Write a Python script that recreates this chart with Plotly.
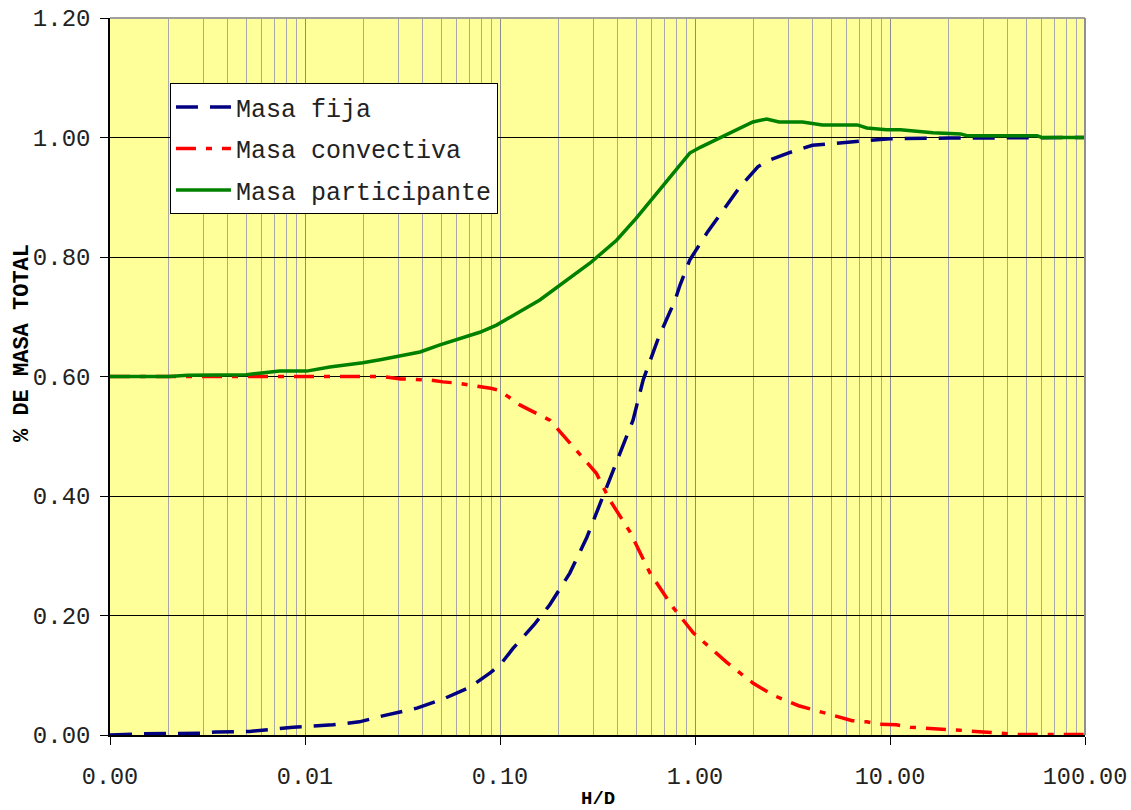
import plotly.graph_objects as go

# ---- data ----
x_fija = [0.001, 0.0015, 0.0029, 0.0035, 0.0052, 0.0066, 0.0087, 0.0139, 0.019, 0.025, 0.0375,
          0.051, 0.07, 0.089, 0.1, 0.1166, 0.15, 0.18, 0.228, 0.279, 0.336, 0.396, 0.481, 0.542,
          0.65, 0.791, 0.838, 0.94, 1.16, 1.68, 2.1, 2.4, 3.0, 4.0, 6.0, 8.7, 10, 20, 50, 100]
y_fija = [0.0, 0.002, 0.003, 0.005, 0.006, 0.009, 0.013, 0.017, 0.022, 0.032, 0.045,
          0.06, 0.08, 0.104, 0.117, 0.145, 0.185, 0.218, 0.271, 0.331, 0.398, 0.455, 0.527, 0.594,
          0.665, 0.728, 0.753, 0.795, 0.842, 0.915, 0.951, 0.962, 0.974, 0.987, 0.992, 0.997, 0.998, 0.999, 1.0, 1.0]

x_conv = [0.001, 0.025, 0.031, 0.044, 0.051, 0.06, 0.091, 0.1, 0.127, 0.18, 0.228, 0.265, 0.312,
          0.366, 0.464, 0.588, 0.77, 0.98, 1.45, 1.98, 2.5, 3.4, 4.0, 5.1, 6.4, 7.6, 8.9, 10.8,
          12.7, 20.2, 22.8, 30, 36.6, 45, 100]
y_conv = [0.600, 0.600, 0.596, 0.594, 0.591, 0.589, 0.580, 0.576, 0.552, 0.527, 0.489, 0.464, 0.438,
          0.393, 0.340, 0.271, 0.214, 0.171, 0.122, 0.087, 0.067, 0.049, 0.042, 0.033, 0.024, 0.022, 0.018, 0.017,
          0.013, 0.010, 0.008, 0.005, 0.003, 0.001, 0.001]

x_part = [0.001, 0.002, 0.0025, 0.005, 0.006, 0.0074, 0.0102, 0.0134, 0.0198, 0.0243, 0.0389, 0.0492,
          0.0788, 0.096, 0.16, 0.29, 0.396, 0.50, 0.676, 0.94, 1.07, 1.34, 1.56, 1.98, 2.33, 2.7, 3.56,
          4.5, 6.8, 7.6, 9.6, 11.3, 16.6, 23, 24.8, 56.7, 60, 100]
y_part = [0.600, 0.600, 0.602, 0.603, 0.606, 0.609, 0.609, 0.616, 0.623, 0.628, 0.641, 0.653,
          0.674, 0.686, 0.728, 0.790, 0.828, 0.865, 0.917, 0.974, 0.984, 0.999, 1.009, 1.026, 1.031, 1.026, 1.026,
          1.021, 1.021, 1.016, 1.013, 1.013, 1.008, 1.006, 1.003, 1.003, 1.0, 1.0]

x_tickvals = [0.001, 0.01, 0.1, 1, 10, 100]
x_ticktext = ["0.00", "0.01", "0.10", "1.00", "10.00", "100.00"]

series_names = ["Masa fija", "Masa convectiva", "Masa participante"]
x_title = "H/D"
y_title = "% DE MASA TOTAL"

MONO = "Courier New, Liberation Mono, monospace"

fig = go.Figure()
fig.add_trace(go.Scatter(x=x_fija, y=y_fija, mode="lines", name=series_names[0], legendgroup="a",
                         line=dict(color="#000080", width=3.5, dash="22px,12px")))
fig.add_trace(go.Scatter(x=x_conv, y=y_conv, mode="lines", name=series_names[1], legendgroup="b",
                         line=dict(color="#FF0000", width=3.5, dash="20px,10px,6px,10px")))
fig.add_trace(go.Scatter(x=x_part, y=y_part, mode="lines", name=series_names[2], legendgroup="c",
                         line=dict(color="#008000", width=3.5)))

fig.update_layout(
    width=1131, height=810,
    margin=dict(l=110, r=46, t=18, b=75),
    paper_bgcolor="white",
    plot_bgcolor="#FFFF99",
    font=dict(family=MONO, color="#000000"),
    showlegend=True,
    legend=dict(x=0.0615, y=0.909, xanchor="left", yanchor="top",
                bgcolor="white", bordercolor="#000000", borderwidth=1,
                font=dict(family=MONO, size=25, color="#222222"),
                tracegroupgap=6, itemwidth=55),
)

fig.update_xaxes(
    type="log", range=[-3, 2], automargin=False,
    tickvals=x_tickvals, ticktext=x_ticktext,
    tickfont=dict(family=MONO, size=23.5, color="#222222"),
    ticks="outside", ticklen=8, tickcolor="#000000", ticklabelstandoff=11,
    ticklabeloverflow="allow",
    showgrid=True, gridcolor="#8C8C8C", gridwidth=1,
    minor=dict(dtick="D1", showgrid=True, gridcolor="#A8A8A8", gridwidth=1, ticks=""),
    showline=True, linecolor="#000000", linewidth=1.5,
    zeroline=False,
)
fig.update_yaxes(
    range=[0, 1.2], dtick=0.2, tickformat=".2f", automargin=False,
    tickfont=dict(family=MONO, size=24, color="#222222"),
    ticks="outside", ticklen=8, tickcolor="#000000", ticklabelstandoff=5,
    ticklabeloverflow="allow",
    showgrid=True, gridcolor="#000000", gridwidth=1,
    showline=True, linecolor="#000000", linewidth=1.5,
    zeroline=False,
)

# axis titles
fig.add_annotation(text="<b>" + x_title + "</b>", xref="paper", yref="paper",
                   x=0.5, y=-0.0893, xanchor="center", yanchor="middle", showarrow=False,
                   font=dict(family=MONO, size=19, color="#000000"))
fig.add_annotation(text="<b>" + y_title + "</b>", xref="paper", yref="paper",
                   x=-0.089, y=0.547, xanchor="center", yanchor="middle", showarrow=False,
                   textangle=-90, font=dict(family=MONO, size=22, color="#000000"))

# gray border on top and right of plot area
fig.add_shape(type="line", xref="paper", yref="paper", x0=0, x1=1, y0=1, y1=1,
              line=dict(color="#A0A0A0", width=2), layer="above")
fig.add_shape(type="line", xref="paper", yref="paper", x0=1, x1=1, y0=0, y1=1,
              line=dict(color="#909090", width=2), layer="above")

fig.write_html("out.html", config={"displayModeBar": False},
               post_script="document.body.style.margin='0';")
